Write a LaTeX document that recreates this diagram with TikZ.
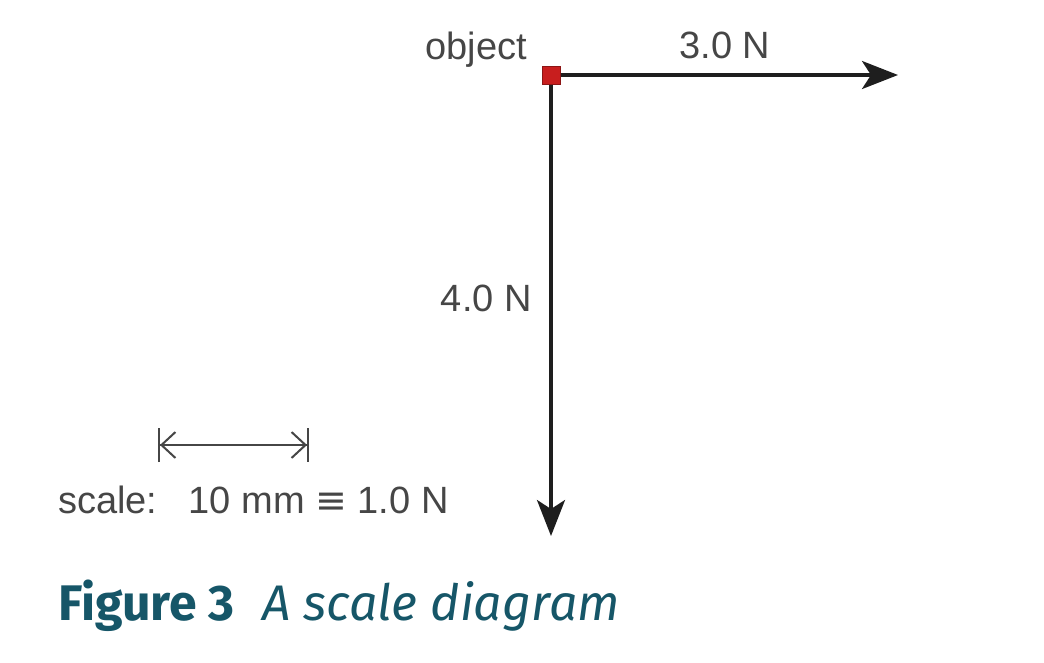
\documentclass[tikz,border=0pt]{standalone}
\usepackage{fontspec}
\setmainfont{Liberation Sans}
\newfontfamily\capfont{Fira Sans}
\newfontfamily\symfont{DejaVu Sans}
\usetikzlibrary{arrows.meta}
\definecolor{txt}{RGB}{70,70,70}
\definecolor{vec}{RGB}{30,30,30}
\definecolor{objred}{RGB}{200,30,30}
\definecolor{capcol}{RGB}{22,86,104}
\tikzset{
  lbl/.style={text=txt,font=\fontsize{38}{42}\selectfont,inner sep=0pt},
  force/.style={draw=vec,line width=3.5pt,-{Stealth[length=36pt,width=28pt,inset=9pt]}},
  scalebar/.style={draw=txt,line width=2pt,{Bar[width=34pt]Straight Barb[length=14pt,width=26pt]}-{Straight Barb[length=14pt,width=26pt]Bar[width=34pt]}},
  objbox/.style={draw=objred!70!black,fill=objred,minimum size=18pt,inner sep=0pt,line width=1pt}
}
\begin{document}
\begin{tikzpicture}[x=1pt,y=-1pt]
\useasboundingbox (0,0) rectangle (1044,662);
\node[objbox] (obj) at (551,75) {};
\coordinate (htip) at (898,75);
\coordinate (vtip) at (551,536);
\draw[force] (obj.east) -- (htip);
\draw[force] (obj.south) -- (vtip);
\node[lbl,anchor=east] (objl) at (527,50) {object};
\node[lbl] (f3) at (725,45) {3.0 N};
\node[lbl,anchor=east] (f4) at (532,298) {4.0 N};
\coordinate (sa) at (158,445);
\coordinate (sb) at (309,445);
\draw[scalebar] (sa) -- (sb);
\node[lbl,anchor=west] (scl) at (58,500) {scale:\hspace{0.45em} 10 mm {\symfont ≡} 1.0 N};
\node[anchor=west,inner sep=0pt,text=capcol,font=\capfont\fontsize{50}{54}\selectfont] (cap) at (58,606) {\textbf{Figure 3}\hspace{0.55em}\textit{A scale diagram}};
\end{tikzpicture}
\end{document}
